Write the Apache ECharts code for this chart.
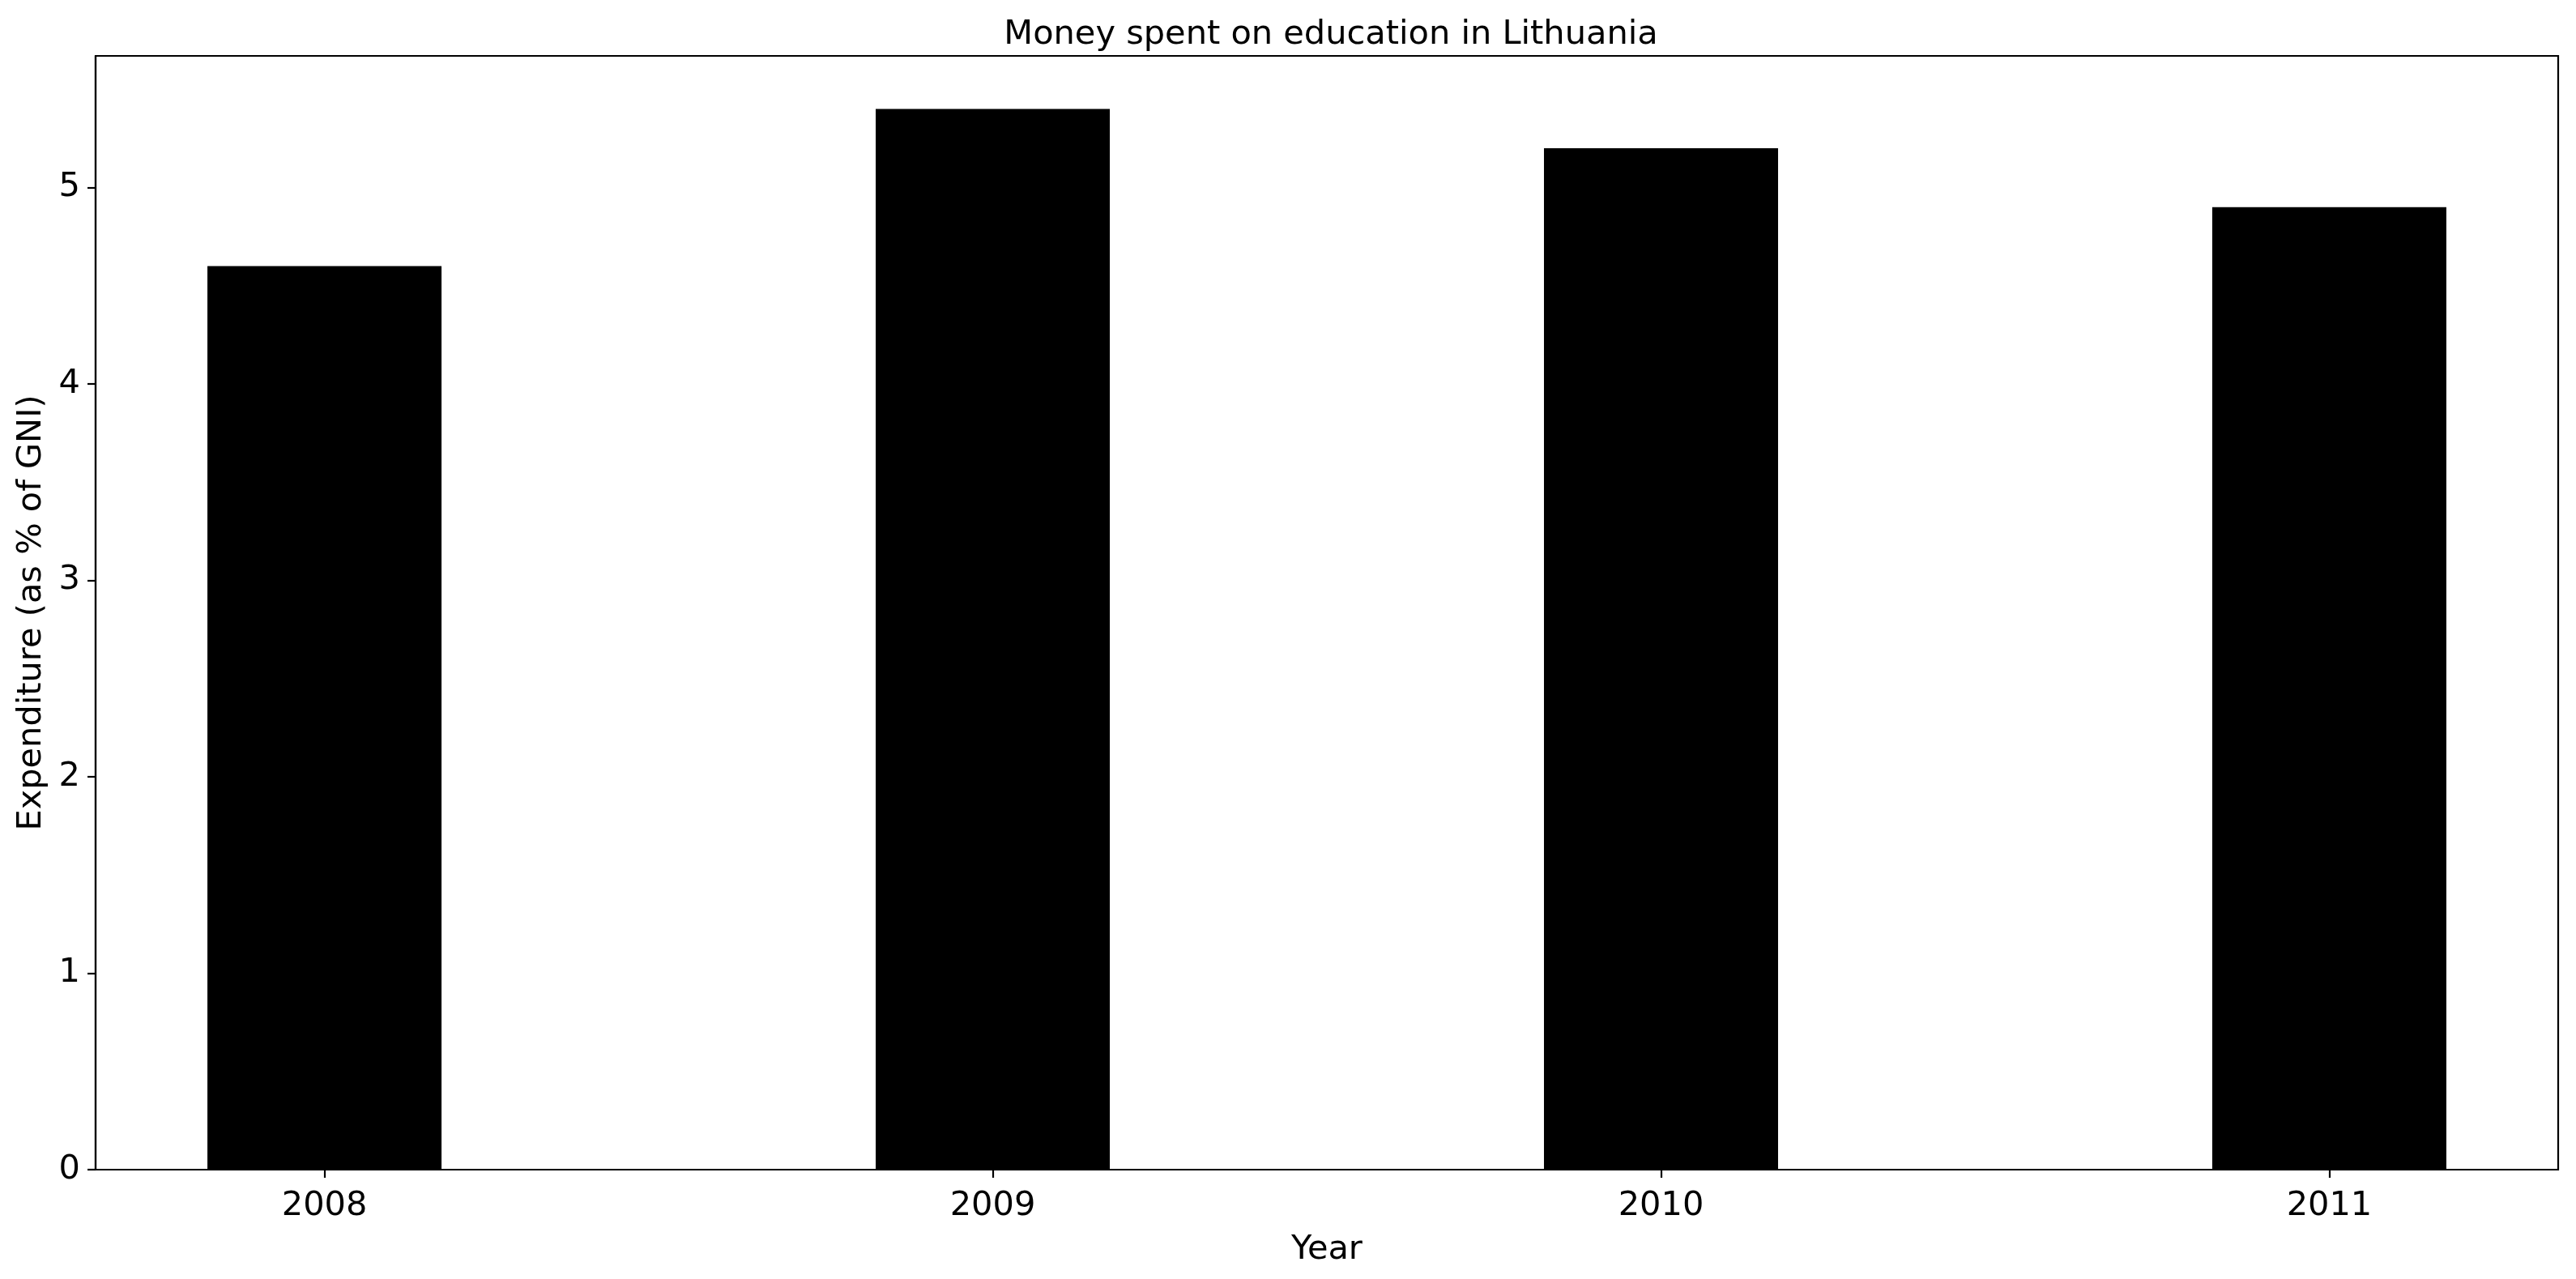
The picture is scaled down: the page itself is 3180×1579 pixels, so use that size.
<!DOCTYPE html>
<html lang="en">
<head>
    <meta charset="UTF-8">
    <title>Money spent on education in Lithuania</title>
    <script src="https://cdn.jsdelivr.net/npm/echarts@6.0.0/dist/echarts.min.js"></script>
    <style>
        html, body { margin: 0; padding: 0; background: #fff; }
    </style>
</head>
<body>

    <div id="main" style="width:3180px; height:1579px;"></div>

    <script>
        // data
        var years = ['2008', '2009', '2010', '2011'];
        var spending = [4.6, 5.4, 5.2, 4.9];
        var yTicks = [0, 1, 2, 3, 4, 5];

        var font = 'DejaVu Sans';
        var chart = echarts.init(document.getElementById('main'));

        var xPos = years.map(function (y, i) { return i; });

        var option = {
            backgroundColor: '#fff',
            animation: false,
            title: {
                text: 'Money spent on education in Lithuania',
                // centred over the plot area, not the page
                left: 1638,
                textAlign: 'center',
                top: 17,
                textStyle: { fontFamily: font, fontSize: 41.5, fontWeight: 'normal', color: '#000' }
            },
            grid: {
                left: 118, right: 22, top: 69, bottom: 135,
                show: true,
                borderColor: '#000',
                borderWidth: 2.2
            },
            xAxis: {
                type: 'value',
                // bars at 0..3, width 0.35, 5% margins
                min: -0.3425,
                max: 3.3425,
                name: 'Year',
                nameLocation: 'middle',
                nameGap: 78,
                nameTextStyle: { fontFamily: font, fontSize: 41.5, color: '#000' },
                axisLine: { show: true, onZero: false, lineStyle: { color: '#000', width: 2.2 } },
                axisTick: { show: true, length: 10, lineStyle: { color: '#000', width: 2.2 }, customValues: xPos },
                axisLabel: {
                    fontFamily: font, fontSize: 41.5, color: '#000', margin: 24,
                    customValues: xPos,
                    formatter: function (v) { return years[Math.round(v)]; }
                },
                splitLine: { show: false }
            },
            yAxis: {
                type: 'value',
                min: 0,
                max: 5.67,
                interval: 1,
                name: 'Expenditure (as % of GNI)',
                nameLocation: 'middle',
                nameGap: 58,
                nameTextStyle: { fontFamily: font, fontSize: 41.5, color: '#000' },
                axisLine: { show: true, onZero: false, lineStyle: { color: '#000', width: 2.2 } },
                axisTick: { show: true, length: 10, lineStyle: { color: '#000', width: 2.2 }, customValues: yTicks },
                axisLabel: {
                    fontFamily: font, fontSize: 41.5, color: '#000', margin: 19,
                    customValues: yTicks
                },
                splitLine: { show: false }
            },
            series: [{
                type: 'bar',
                name: 'Expenditure',
                barWidth: 289,
                itemStyle: { color: '#000' },
                data: spending.map(function (v, i) { return [i, v]; })
            }]
        };

        chart.setOption(option);
    </script>
</body>
</html>
